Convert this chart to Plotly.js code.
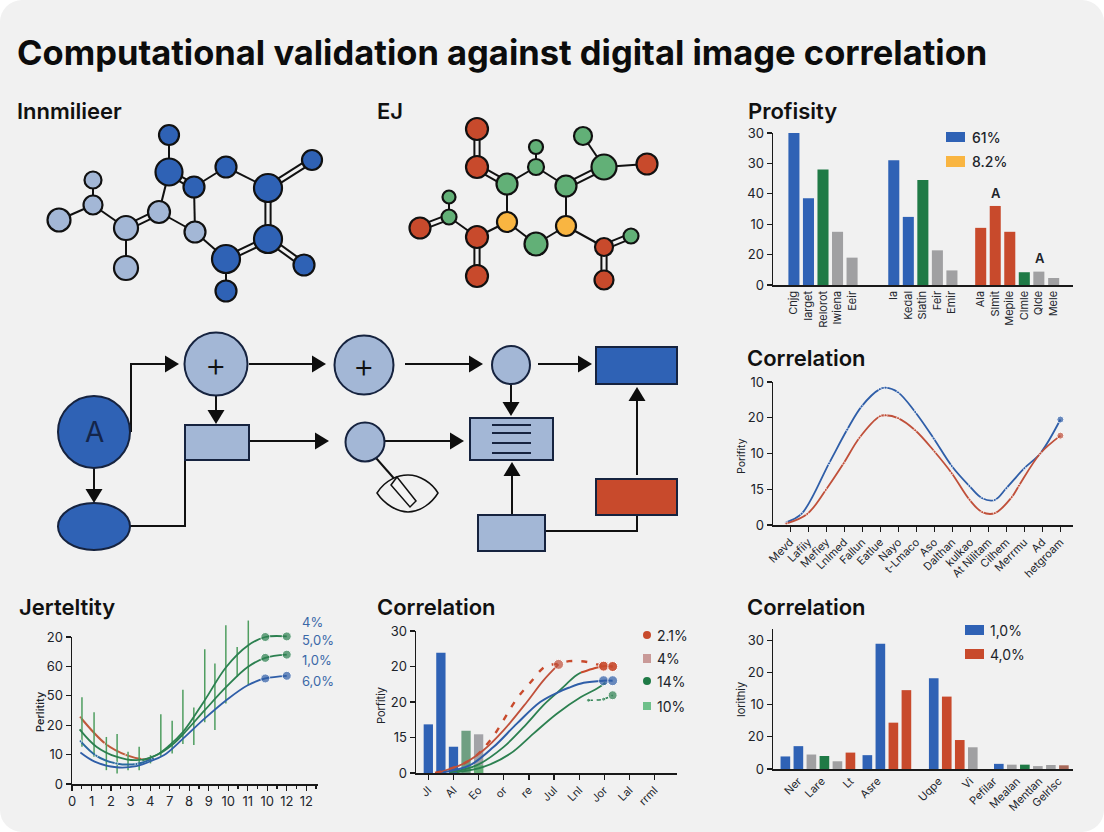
<!DOCTYPE html>
<html><head><meta charset="utf-8">
<script src="https://cdn.plot.ly/plotly-3.0.1.min.js"></script>
<style>html,body{margin:0;padding:0;background:#fff}#c{width:1104px;height:832px;background:#f1f1f1;border-radius:22px;overflow:hidden}</style>
</head><body><div id="c"></div>
<script>
// ---------- chart data ----------
const profLabels=["Cnjg","Iarget","Relorot","Iwiena","Eeir","Ia","Kedal","Slatin","Feir","Emir","Ala","Slmit","Mepile","Clmle","Qlde","Mele"];
const profSlots=[0,1,2,3,4,6.87,7.87,8.87,9.87,10.87,12.85,13.85,14.85,15.85,16.85,17.87];
const profValues=[50,28.5,38,17.5,9,41,22.4,34.5,11.4,4.8,18.8,26,17.5,4.2,4.4,2.3];
const profGroups=["b","b","g","n","n","b","b","g","n","n","r","r","r","g","n","n"];
const profTickVals=[0,10,20,30,40,50];
const profTickText=["0","20","10","40","30","30"];

const corrLabels=["Mevd","Lafiiy","Mefiey","Lnlmed","Fallun","Eatlue","Nayo","t-Lmaco","Aso","Dalthan","kulkao","At Nilitam","Cilhem","Merrmu","Ad","hetgroam"];
const corrTicks=[0,1,2,3,4,5,6,7,8,9,10,11,12,13,14,15];
const corrBlueX=[-0.22,0.64,2.16,3.17,3.97,4.98,5.3,5.99,6.94,7.97,8.97,9.95,10.66,11.36,12,13,13.88,15];
const corrBlueY=[0.74,3.15,17.25,26.7,33.2,38,38.4,37.1,31.6,24.2,16.5,10.9,7.5,7,10.3,15.9,20,29.5];
const corrRedX=[-0.22,0.95,1.98,2.97,3.85,4.98,5.3,5.99,6.94,8.02,8.97,9.96,10.66,11.36,12.3,12.7,13.88,15];
const corrRedY=[0.4,3.1,9.8,17.25,24.4,30.4,30.7,29.9,26.5,20.5,14.5,7.05,3.6,3.3,7.8,11,20,25];
const corrYVals=[0,10,20,30,40];
const corrYText=["0","15","10","20","10"];

const jertXText=["0","1","2","3","4","7","8","9","10","11","10","12","12"];
const jertXVals=[0,1,2,3,4,5,6,7,8,9,10,11,12];
const jertYVals=[0,10,20,30,40,50];
const jertYText=["0","10","20","50","60","20"];
const jertRedX=[0.43,1.73,2.79,3.64,4.15];
const jertRedY=[22.7,13.6,9.8,8.4,8.7];
const jertGreenAX=[0.39,1.25,2.27,3.3,4.3,5,5.7,6.8,7.9,9.03,9.9,11];
const jertGreenAY=[18.6,12.7,9.3,8.1,9.8,13.2,17.8,28.5,39.8,47.2,50,50.2];
const jertGreenBX=[3.6,4.5,5.18,5.7,6.8,7.9,9,9.9,11];
const jertGreenBY=[8,10.4,13.6,17,25.1,33,39.8,42.9,44];
const jertBlueAX=[0.43,1.25,2.27,3.3,4.15];
const jertBlueAY=[14.6,9.6,7,6.8,8.7];
const jertBlueBX=[0.43,1.16,2.27,3.3,4.15,4.84,5.7,6.8,7.9,9,9.9,11];
const jertBlueBY=[10.7,7.6,5.7,6.1,8.1,10.4,15.5,22.3,28.5,33.6,35.9,36.8];
const jertErrX=[0.51,1.13,1.76,2.31,2.87,3.44,4.02,4.55,5.13,5.68,6.24,6.8,7.32,7.88,8.46,9.03];
const jertErrLow=[12.7,9.3,4.7,3.6,4.7,4.7,7.0,9.3,10.4,13.6,13.3,21,18.4,27.4,36.4,33.6];
const jertErrHigh=[29.5,24.4,16,17,11,12.7,9.8,23.7,21.5,32.1,26,45.8,41,54,46.6,55.6];

const mixLabels=["Jl","Al","Eo","or","re","Jul","Lnl","Jor","Lal","rrml"];
const mixTicks=[0,1,2,3,4,5,6,7,8,9];
const mixYVals=[0,10,20,30,40];
const mixYText=["0","15","20","20","30"];
const mixBarX=[0,0.5,1,1.5,2];
const mixBarY=[13.7,33.9,7.4,11.9,10.9];
const mixBarColors=["#2f62b5","#2f62b5","#2f62b5","#6f9f82","#a3a3a8"];
const mixRedDashX=[0.27,1.66,2.46,3.52,4.05,4.65,5.18,5.6,6.07,6.51,6.97,7.33];
const mixRedDashY=[0,3.6,9.2,20.9,25.4,30,30.8,31.5,31.5,31,30.1,30];
const mixRedAX=[0.33,1.39,2.19,2.99,3.92,4.58,5.18];
const mixRedAY=[0,2.6,6.4,12,20,26.1,30.6];
const mixRedBX=[6.07,6.51,6.97,7.33];
const mixRedBY=[28.3,29.3,30.1,30];
const mixBlueX=[0.6,1.66,2.59,3.52,4.45,5.18,5.58,6.18,6.97,7.33];
const mixBlueY=[0.2,2.2,7.3,13.9,20,22.8,24,25.4,26,26];
const mixGreenAX=[0.86,1.93,2.99,3.92,4.58,5.15,5.51,5.82,6.07];
const mixGreenAY=[0.2,2.2,7.3,13.9,19.1,22.8,25.2,27.2,28.3];
const mixGreenBX=[1.13,2.19,3.25,4.18,5.11,6.07,6.71,7.01];
const mixGreenBY=[0.2,1.7,5.4,11.1,16.7,21.4,23.8,25.2];
const mixGreenDashX=[6.37,6.97,7.33];
const mixGreenDashY=[20.5,20.8,21.9];

const lastLabels=["Ner","Lare","Lt","Asre","Uqpe","Vi","Pefilar","Mealan","Mentlan","Gelrlsc"];
const lastTicks=[1,2.8,5,7.1,11.8,14.2,16,17.8,19.5,21];
const lastYVals=[0,10,20,30,40];
const lastYText=["0","20","10","20","30"];
const lastSlots=[0,1,2,3,4,5,6.3,7.3,8.3,9.3,11.4,12.4,13.4,14.4,16.4,17.4,18.4,19.4,20.4,21.4];
const lastValues=[3.9,7.1,4.5,4.05,2.4,5.1,4.3,38.9,14.4,24.5,28.2,22.5,9,6.75,1.6,1.35,1.35,0.9,1.25,1.15];
const lastGroups=["b","b","n","g","n","r","b","b","r","r","b","r","r","n","b","n","g","n","n","t"];

// ---------- diagram data (page pixels) ----------
const molAX=[169,169,194,226,268,312,268,304,226,226,195,159,126,126,93,93,59];
const molAY=[135,172,187,167,188,160,239,265,259,291,232,212,228,268,205,180,220];
const molASize=[20,27,21,21,28,20,28,21,28,21,21,22,24,24,19,17,23];
const molAKind=["b","b","b","b","b","b","b","b","b","b","l","l","l","l","l","l","l"];
const molASingle=[[0,1],[2,3],[3,4],[8,9],[8,10],[10,2],[10,11],[11,1],[12,13],[12,14],[14,15],[14,16]];
const molADouble=[[1,2],[4,5],[4,6],[6,7],[6,8],[11,12]];
const molBX=[477,477,507,536,536,566,604,583,647,566,507,536,477,477,449,449,420,604,631,604];
const molBY=[129,167,184,167,147,186,167,136,164,226,222,244,237,276,217,197,228,247,236,280];
const molBSize=[22,22,21,16,14,21,25,18,21,20,20,23,22,22,15,13,21,18,15,19];
const molBKind=["r","r","g","g","g","g","g","g","r","o","o","g","r","r","g","g","r","r","g","r"];
const molBSingle=[[2,3],[3,4],[3,5],[6,7],[6,8],[5,9],[9,11],[11,10],[10,2],[10,12],[12,14],[14,15],[9,17]];
const molBDouble=[[0,1],[1,2],[5,6],[12,13],[14,16],[17,18],[17,19]];

const flowCircleX=[94,216,364,511,365];
const flowCircleY=[432,364,365,365,442];
const flowCircleR=[36,31.5,29.5,19,19.5];
const flowCircleKind=["b","l","l","l","l"];
const flowRectX0=[185,596,470,596,478];
const flowRectX1=[249,677,553,677,545];
const flowRectY0=[425,347,418,479,515];
const flowRectY1=[460,384,460,515,551];
const flowRectKind=["l","b","l","r","l"];
const flowArrowPaths=[
 [[131,432],[131,364],[179,364]],[[216,395],[216,424]],[[249,364],[326,364]],[[94,468],[94,503]],
 [[249,441],[329,441]],[[405,364],[483,364]],[[538,364],[592,364]],[[511,384],[511,416]],
 [[384,441],[464,441]],[[512,515],[512,462]],[[637,475],[637,387]]];
const flowPlainPaths=[[[130,526],[185,526],[185,460]],[[545,531],[637,531],[637,515]],[[376,458],[398,483]]];
const listRowsY=[425,433,443,453];

// ---------- styling ----------
const C={b:"#2f62b5",l:"#a3b7d6",g:"#1f7a46",n:"#a0a0a2",r:"#c84a2c",o:"#f9b541",m:"#66b077",t:"#a8695a",ink:"#14171f"};
const FONT="Inter, 'Open Sans', sans-serif";
const traces=[],shapes=[],notes=[];
const layout={width:1104,height:832,margin:{l:0,r:0,t:0,b:0,pad:0},paper_bgcolor:"rgba(0,0,0,0)",plot_bgcolor:"rgba(0,0,0,0)",
  showlegend:false,barmode:"overlay",font:{family:FONT,color:"#20232a"},shapes,annotations:notes};

function axes(n,xpx,ypx,xr,yr,xt,yt){
  layout["xaxis"+n]=Object.assign({domain:[xpx[0]/1104,xpx[1]/1104],range:xr,anchor:"y"+n,showgrid:false,zeroline:false,showline:true,
    linecolor:"#1a1a1a",linewidth:1.5,ticks:"outside",ticklen:5,tickwidth:1.2,tickcolor:"#1a1a1a",tickmode:"array",fixedrange:true},xt);
  layout["yaxis"+n]=Object.assign({domain:[1-ypx[1]/832,1-ypx[0]/832],range:yr,anchor:"x"+n,showgrid:false,zeroline:false,showline:true,
    linecolor:"#1a1a1a",linewidth:1.5,ticks:"outside",ticklen:5,tickwidth:1.2,tickcolor:"#1a1a1a",tickmode:"array",fixedrange:true,
    tickfont:{size:13,color:"#20232a",family:FONT}},yt);
}
function note(x,y,text,opt){const o=opt||{};const left=!o.xanchor;
  notes.push(Object.assign({xref:"paper",yref:"paper",x:(left?x-2:x)/1104,y:1-y/832,text,showarrow:false,xanchor:"left",yanchor:"middle",
  font:{family:FONT,size:13,color:"#20232a"}},o));}
function title(x,y,text){note(x,y,text,{font:{family:FONT,size:22,color:"#111",weight:600}});}
function legendRect(x0,x1,y0,y1,color){shapes.push({type:"rect",xref:"paper",yref:"paper",x0:x0/1104,x1:x1/1104,y0:1-y1/832,y1:1-y0/832,fillcolor:color,line:{width:0}});}
function line(xn,yn,x,y,color,w,extra){traces.push(Object.assign({type:"scatter",mode:"lines",x,y,xaxis:"x"+xn,yaxis:"y"+yn,cliponaxis:false,hoverinfo:"skip",
  line:{color,width:w,shape:"spline",smoothing:1}},extra||{}));}
function curve(xn,yn,x,y,color,w,ends,small,big,dash){
  const size=x.map((_,i)=>i>=x.length-ends?big:small);
  line(xn,yn,x,y,color,w,{mode:"lines+markers",marker:{color,size},line:{color,width:w,shape:"spline",smoothing:1,dash:dash||"solid"}});
}
const tf=s=>({size:s,color:"#23262d",family:FONT});

// titles
note(17,52,"Computational validation against digital image correlation",{font:{family:FONT,size:34.5,color:"#0c0c0c",weight:700}});
title(17,111,"Innmilieer");title(377,111,"EJ");title(748,111,"Profisity");title(747,358,"Correlation");
title(19,607,"Jerteltity");title(377,607,"Correlation");title(747,607,"Correlation");

// chart 1
axes(1,[773,1073],[133,285],[-1.44,19.2],[0,50],{showticklabels:true,tickvals:profSlots,ticktext:profLabels,tickangle:-90,ticks:"",tickfont:tf(11)},{tickvals:profTickVals,ticktext:profTickText});
traces.push({type:"bar",x:profSlots,y:profValues,width:0.76,xaxis:"x1",yaxis:"y1",marker:{color:profGroups.map(k=>C[k])},hoverinfo:"skip"});
legendRect(946,965,132,142,C.b);legendRect(946,965,156,167,C.o);
note(972,137,"61%",{font:{family:FONT,size:14,weight:500}});note(972,162,"8.2%",{font:{family:FONT,size:14,weight:500}});
note(996,193,"A",{xanchor:"center",font:{family:FONT,size:13,weight:600}});note(1040,258,"A",{xanchor:"center",font:{family:FONT,size:13,weight:600}});

// chart 2
axes(2,[773,1073],[382,525],[-0.95,15.7],[0,40],{tickvals:corrTicks,ticktext:corrLabels,tickangle:-45,tickfont:tf(11)},{tickvals:corrYVals,ticktext:corrYText});
curve(2,2,corrBlueX,corrBlueY,"#2f5ea8",1.8,1,3,7);
curve(2,2,corrRedX,corrRedY,"#c0503a",1.8,1,3,7);
note(741,456,"Porifity",{xanchor:"center",textangle:-90,font:{family:FONT,size:10.5}});

// chart 3: same scale on a hidden overlay that is taller, so whiskers can rise above the drawn axis
axes(3,[72,318],[637,784],[0,12.6],[0,50],{tickvals:jertXVals,ticktext:jertXText,tickfont:tf(13),minor:{ticks:"outside",ticklen:3,dtick:0.5,tickcolor:"#1a1a1a"}},{tickvals:jertYVals,ticktext:jertYText});
layout.xaxis8={domain:[72/1104,318/1104],range:[0,12.6],visible:false,anchor:"y7",fixedrange:true};
layout.yaxis7={domain:[1-784/832,1-617/832],range:[0,50*167/147],visible:false,anchor:"x8",fixedrange:true};
curve(3,3,jertRedX,jertRedY,"#bf5a3c",2,0,3,3);
const errX=[],errY=[];jertErrX.forEach((x,i)=>{errX.push(x,x,null);errY.push(jertErrLow[i],jertErrHigh[i],null);});
traces.push({type:"scatter",mode:"lines",x:errX,y:errY,xaxis:"x8",yaxis:"y7",line:{color:"#4f9e60",width:1.5},hoverinfo:"skip",cliponaxis:false});
curve(8,7,jertBlueAX,jertBlueAY,"#2a6aa0",2,0,3,3);
curve(8,7,jertGreenAX,jertGreenAY,"#2c8050",1.8,2,0,9);
curve(8,7,jertGreenBX,jertGreenBY,"#2c8050",1.8,2,0,9);
curve(8,7,jertBlueBX,jertBlueBY,"#2f5ea8",1.8,2,0,9);
[["4%",622],["5,0%",640],["1,0%",660],["6,0%",681]].forEach(([t,y])=>note(302,y,t,{font:{family:FONT,size:13,color:"#3a68a8"}}));
note(40,712,"Perlitity",{xanchor:"center",textangle:-90,font:{family:FONT,size:11,weight:500}});

// chart 4
axes(4,[416,677],[631,773],[-0.49,9.89],[0,40],{tickvals:mixTicks,ticktext:mixLabels,tickangle:-45,tickfont:tf(11)},{tickvals:mixYVals,ticktext:mixYText});
traces.push({type:"bar",x:mixBarX,y:mixBarY,width:0.37,xaxis:"x4",yaxis:"y4",marker:{color:mixBarColors},hoverinfo:"skip"});
traces.push({type:"bar",x:[2],y:[2.2],width:0.37,xaxis:"x4",yaxis:"y4",marker:{color:C.m},hoverinfo:"skip"});
curve(4,4,mixRedDashX,mixRedDashY,"#c84a2c",2.4,2,0,10,"6px,9px");
curve(4,4,mixRedAX,mixRedAY,"#c0503a",1.8,1,0,10);
curve(4,4,mixRedBX,mixRedBY,"#c84a2c",2,2,0,10);
curve(4,4,mixGreenAX,mixGreenAY,"#2c8050",1.8,0,0,0);
curve(4,4,mixGreenBX,mixGreenBY,"#2c8050",1.8,1,0,4);
curve(4,4,mixBlueX,mixBlueY,"#2f5ea8",2,2,0,10);
curve(4,4,mixGreenDashX,mixGreenDashY,"#2c8050",1.5,1,4,9,"4px,4px");
note(381,706,"Porfitiy",{xanchor:"center",textangle:-90,font:{family:FONT,size:11}});
const legend4=[["2.1%",635],["4%",658],["14%",681],["10%",706]];
shapes.push({type:"circle",xref:"paper",yref:"paper",x0:643/1104,x1:651/1104,y0:1-639/832,y1:1-631/832,fillcolor:C.r,line:{width:0}});
legendRect(643,651,654,663,"#c99a98");
shapes.push({type:"circle",xref:"paper",yref:"paper",x0:643/1104,x1:651/1104,y0:1-685/832,y1:1-677/832,fillcolor:C.g,line:{width:0}});
legendRect(643,651,702,710,"#6ec08a");
legend4.forEach(([t,y])=>note(657,y,t,{font:{family:FONT,size:14}}));

// chart 5
axes(5,[773,1073],[629,769],[-0.95,22.1],[0,43.5],{tickvals:lastTicks,ticktext:lastLabels,tickangle:-45,ticks:"",tickfont:tf(11)},{tickvals:lastYVals,ticktext:lastYText});
traces.push({type:"bar",x:lastSlots,y:lastValues,width:0.74,xaxis:"x5",yaxis:"y5",marker:{color:lastGroups.map(k=>C[k])},hoverinfo:"skip"});
legendRect(965,984,625,635,C.b);legendRect(965,984,649,659,C.r);
note(990,630,"1,0%",{font:{family:FONT,size:14}});note(990,654,"4,0%",{font:{family:FONT,size:14}});
note(741,700,"lorithiy",{xanchor:"center",textangle:-90,font:{family:FONT,size:11}});

// diagrams on a page-sized hidden axis pair
layout.xaxis6={domain:[0,1],range:[0,1104],visible:false,anchor:"y6",fixedrange:true};
layout.yaxis6={domain:[0,1],range:[832,0],visible:false,anchor:"x6",fixedrange:true};
function molecule(xs,ys,sizes,kinds,single,double,palette){
  const lx=[],ly=[];
  single.forEach(([a,b])=>{lx.push(xs[a],xs[b],null);ly.push(ys[a],ys[b],null);});
  double.forEach(([a,b])=>{
    const dx=xs[b]-xs[a],dy=ys[b]-ys[a],L=Math.hypot(dx,dy),ox=-dy/L*2.6,oy=dx/L*2.6;
    [1,-1].forEach(s=>{lx.push(xs[a]+s*ox,xs[b]+s*ox,null);ly.push(ys[a]+s*oy,ys[b]+s*oy,null);});
  });
  traces.push({type:"scatter",mode:"lines",x:lx,y:ly,xaxis:"x6",yaxis:"y6",line:{color:"#111",width:2},hoverinfo:"skip"});
  traces.push({type:"scatter",mode:"markers",x:xs,y:ys,xaxis:"x6",yaxis:"y6",hoverinfo:"skip",
    marker:{size:sizes,color:kinds.map(k=>palette[k]),line:{color:"#111",width:2.2},opacity:1}});
}
molecule(molAX,molAY,molASize,molAKind,molASingle,molADouble,{b:C.b,l:C.l});
molecule(molBX,molBY,molBSize,molBKind,molBSingle,molBDouble,{r:C.r,g:"#62b077",o:C.o});

const dataShape=o=>shapes.push(Object.assign({xref:"x6",yref:"y6",line:{color:"#111",width:2}},o));
flowPlainPaths.concat(flowArrowPaths).forEach((p,i)=>{
  const isArrow=i>=flowPlainPaths.length,pts=p.map(q=>q.slice());
  const n=pts.length;
  let ux=0,uy=0;
  if(isArrow){const a=pts[n-2],b=pts[n-1],L=Math.hypot(b[0]-a[0],b[1]-a[1]);ux=(b[0]-a[0])/L;uy=(b[1]-a[1])/L;
    const tip=b.slice();const bx=tip[0]-ux*14,by=tip[1]-uy*14;pts[n-1]=[bx,by];
    dataShape({type:"path",path:`M${tip[0]},${tip[1]}L${bx-uy*8.5},${by+ux*8.5}L${bx+uy*8.5},${by-ux*8.5}Z`,fillcolor:"#0d0d0d",line:{width:0}});}
  traces.push({type:"scatter",mode:"lines",x:pts.map(q=>q[0]),y:pts.map(q=>q[1]),xaxis:"x6",yaxis:"y6",line:{color:"#111",width:2},hoverinfo:"skip"});
});
flowCircleX.forEach((x,i)=>{const y=flowCircleY[i],r=flowCircleR[i];
  dataShape({type:"circle",x0:x-r,x1:x+r,y0:y-r,y1:y+r,fillcolor:C[flowCircleKind[i]],line:{color:"#16233f",width:2}});});
dataShape({type:"circle",x0:58,x1:130,y0:503,y1:550,fillcolor:C.b,line:{color:"#16233f",width:2}});
flowRectX0.forEach((x,i)=>dataShape({type:"rect",x0:x,x1:flowRectX1[i],y0:flowRectY0[i],y1:flowRectY1[i],fillcolor:C[flowRectKind[i]],line:{color:"#16233f",width:2}}));
listRowsY.forEach(y=>dataShape({type:"line",x0:492,x1:531,y0:y,y1:y,line:{color:"#16233f",width:2}}));
dataShape({type:"path",path:"M377,493C385,480 398,475 408,475C420,475 432,483 438,493C432,503 420,512 408,512C398,512 385,505 377,493Z",fillcolor:"#f1f1f1",line:{color:"#111",width:1.5}});
dataShape({type:"path",path:"M391,485L397,477L416,501L410,507Z",fillcolor:"#f4f4f4",line:{color:"#111",width:1.5}});
note(94,432,"A",{xanchor:"center",font:{family:FONT,size:28,color:"#14254a"}});
note(216,364,"+",{xanchor:"center",font:{family:FONT,size:33,color:"#111",weight:300}});
note(364,365,"+",{xanchor:"center",font:{family:FONT,size:33,color:"#111",weight:300}});

Plotly.newPlot("c",traces,layout,{displayModeBar:false,staticPlot:true});
</script></body></html>
